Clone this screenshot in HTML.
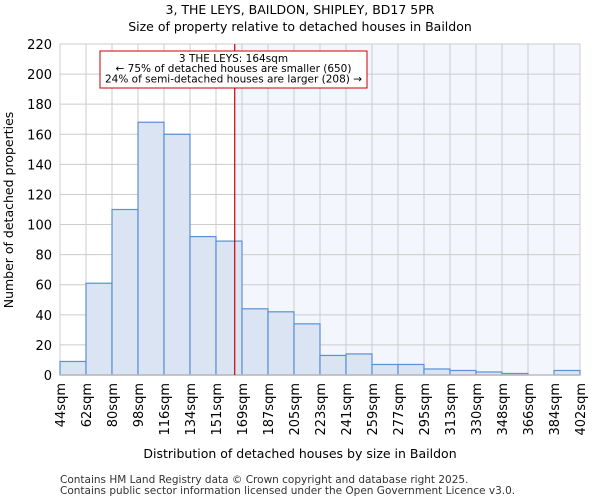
<!DOCTYPE html>
<html><head><meta charset="utf-8"><style>
body{margin:0;background:#fff;font-family:"DejaVu Sans","Liberation Sans",sans-serif;}
</style></head><body>
<svg id="chart" width="600" height="500" xmlns="http://www.w3.org/2000/svg" font-family="DejaVu Sans, Liberation Sans, sans-serif">
<text x="300" y="14" text-anchor="middle" font-size="12.5">3, THE LEYS, BAILDON, SHIPLEY, BD17 5PR</text>
<text x="300" y="31" text-anchor="middle" font-size="12.5">Size of property relative to detached houses in Baildon</text>
<g id="plot"></g>
<text x="300" y="458" text-anchor="middle" font-size="12.5">Distribution of detached houses by size in Baildon</text>
<text transform="translate(13,210) rotate(-90)" text-anchor="middle" font-size="12.5">Number of detached properties</text>
<text x="60" y="483" font-size="10.5" fill="#333">Contains HM Land Registry data © Crown copyright and database right 2025.</text>
<text x="60" y="494" font-size="10.5" fill="#333">Contains public sector information licensed under the Open Government Licence v3.0.</text>
</svg>
<script>
const categories=["44sqm","62sqm","80sqm","98sqm","116sqm","134sqm","151sqm","169sqm","187sqm","205sqm","223sqm","241sqm","259sqm","277sqm","295sqm","313sqm","330sqm","348sqm","366sqm","384sqm","402sqm"];
const counts=[9,61,110,168,160,92,89,44,42,34,13,14,7,7,4,3,2,1,0,3];
const yTicks=[0,20,40,60,80,100,120,140,160,180,200,220];
const markerBin=6.72;
const annotationLines=["3 THE LEYS: 164sqm","← 75% of detached houses are smaller (650)","24% of semi-detached houses are larger (208) →"];

const NS="http://www.w3.org/2000/svg";
const g=document.getElementById('plot');
const L=60,R=580,T=44,B=375,yMax=220;
const xs=i=>L+(R-L)*i/counts.length;
const ys=v=>B-(B-T)*v/yMax;
function mk(t,a){const e=document.createElementNS(NS,t);for(const k in a)e.setAttribute(k,a[k]);g.appendChild(e);return e;}
let e;
e=mk('rect',{x:xs(markerBin),y:T,width:R-xs(markerBin),height:B-T,fill:'#f3f6fd'});


yTicks.forEach(v=>{
 e=mk('line',{x1:L,x2:R,y1:ys(v),y2:ys(v),stroke:'#cccccc','stroke-width':1});
 
 
 e=mk('text',{x:L-8,y:ys(v)+5,'text-anchor':'end','font-size':13});
 e.textContent=v;
 
 
});
categories.forEach((c,i)=>{
 e=mk('line',{x1:xs(i),x2:xs(i),y1:T,y2:B,stroke:'#cccccc','stroke-width':1});
 
 
 e=mk('text',{transform:`translate(${xs(i)+5},${B+8}) rotate(-90)`,'text-anchor':'end','font-size':13});
 e.textContent=c;
 
 
});
counts.forEach((v,i)=>{
 if(v<=0)return;
 e=mk('rect',{x:xs(i),y:ys(v),width:xs(i+1)-xs(i),height:B-ys(v),fill:'#dae4f3',stroke:'#5b8fd6','stroke-width':1.2});
 
 
});
e=mk('line',{x1:L,x2:R,y1:B,y2:B,stroke:'#bbbbbb','stroke-width':1.5});


e=mk('line',{x1:xs(markerBin),x2:xs(markerBin),y1:T,y2:B,stroke:'#cc0000','stroke-width':1.2});


e=mk('rect',{x:100,y:51,width:267,height:37,fill:'#fff',stroke:'#cc0000','stroke-width':1});


annotationLines.forEach((t,i)=>{
 e=mk('text',{x:233.5,y:62+i*10.2,'text-anchor':'middle','font-size':10.5});
 e.textContent=t;
 
 
});
</script>
</body></html>
